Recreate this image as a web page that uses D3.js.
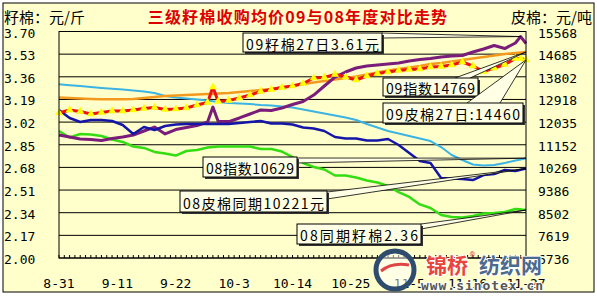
<!DOCTYPE html>
<html><head>
<meta charset="utf-8">
<script src="https://d3js.org/d3.v7.min.js"></script>
<style>
  body { margin: 0; background: #fff; }
  text { font-family: "DejaVu Sans Mono", monospace; }
  .cjk { font-family: "Noto Sans CJK SC", sans-serif; }
</style>
</head>
<body>
<script>
// sample dates (2009), shared by every series
const dates = ["8-31","9-2","9-4","9-6","9-8","9-10","9-12","9-14","9-16","9-18","9-20","9-22","9-24","9-26","9-28","9-29",
  "9-30","10-2","10-4","10-6","10-8","10-10","10-12","10-14","10-16","10-18","10-20","10-22","10-24","10-26","10-28","10-30",
  "11-1","11-3","11-5","11-7","11-9","11-11","11-13","11-15","11-17","11-19","11-21","11-23","11-25","11-26","11-27"];

// seed cotton, yuan / jin (left axis)
const seed09 = [2.923,2.908,2.893,2.889,2.882,2.897,2.908,2.923,2.953,2.983,2.931,2.964,2.979,2.994,3.021,3.133,
  3.024,3.024,3.051,3.081,3.111,3.107,3.126,3.152,3.175,3.223,3.291,3.358,3.396,3.426,3.441,3.449,
  3.456,3.464,3.479,3.490,3.497,3.509,3.516,3.520,3.546,3.569,3.595,3.572,3.614,3.662,3.61];
const seed08 = [2.953,2.904,2.931,2.927,2.916,2.889,2.871,2.837,2.826,2.796,2.784,2.769,2.803,2.811,2.829,2.833,
  2.837,2.837,2.837,2.837,2.818,2.818,2.799,2.758,2.713,2.683,2.664,2.619,2.619,2.604,2.582,2.567,
  2.540,2.495,2.458,2.402,2.375,2.323,2.308,2.304,2.315,2.334,2.338,2.345,2.368,2.365,2.36];

// lint cotton, yuan / ton (right axis)
const index09 = [12994,12974,12955,12935,12924,12924,12924,12935,12974,13013,13052,13072,13091,13111,13130,13130,
  13150,13169,13208,13247,13286,13325,13384,13442,13520,13579,13637,13696,13754,13813,13891,13969,
  14047,14105,14164,14222,14300,14339,14398,14456,14515,14573,14631,14690,14729,14749,14769];
const lint09 = [12390,12507,12448,12351,12409,12468,12468,12507,12565,12604,12526,12546,12585,12701,12799,13403,
  12838,12877,12974,13091,13228,13306,13384,13442,13540,13754,13774,13891,13793,13676,13832,13930,
  13988,14047,14086,14105,14183,14203,14261,14378,14222,14008,14144,14281,14515,14515,14460];
const index08 = [13509,13474,13442,13403,13364,13333,13302,13267,13224,13169,13052,12994,12955,12916,12877,12850,
  12818,12779,12760,12740,12701,12682,12643,12604,12526,12448,12370,12292,12214,12117,11961,11824,
  11688,11590,11493,11395,11298,11064,10752,10557,10382,10343,10362,10440,10538,10580,10629];
const lint08 = [12507,12195,12039,12117,12117,12078,11922,11571,11844,11727,11883,11941,11961,11961,11961,11961,
  11961,11961,12000,12039,12078,11980,11980,11941,11824,11785,11688,11454,11395,11395,11317,11317,
  11376,11142,10830,10518,10440,9855,9836,9816,9777,9972,10011,10167,10128,10180,10221];

const leftTicks = ["3.70","3.53","3.36","3.19","3.02","2.85","2.68","2.51","2.34","2.17","2.00"];
const rightTicks = ["15568","14685","13802","12918","12035","11152","10269","9386","8502","7619","6736"];
const xTicks = ["8-31","9-11","9-22","10-3","10-14","10-25","11-5","11-16","11-27"];

const W = 597, H = 297;
const parse = d3.timeParse("%Y-%m-%d");
const toDate = s => parse("2009-" + s);
const days = dates.map(toDate);

const x = d3.scaleTime().domain([toDate("8-31"), toDate("11-27")]).range([59, 526]);
const yL = d3.scaleLinear().domain([2.00, 3.70]).range([258, 31.5]);
const yR = d3.scaleLinear().domain([6736, 15568]).range([258, 31.5]);

const svg = d3.select("body").append("svg").attr("width", W).attr("height", H);

svg.append("rect").attr("x", 3).attr("y", 3).attr("width", 591).attr("height", 289)
  .attr("fill", "#FFFFCC").attr("stroke", "#000");

// title + units
svg.append("text").attr("class", "cjk").attr("x", 298).attr("y", 16)
  .attr("text-anchor", "middle").attr("dominant-baseline", "central")
  .style("font-size", "16px").style("font-weight", "bold").style("letter-spacing", "1.2px")
  .attr("fill", "#DD0000").text("三级籽棉收购均价09与08年度对比走势");
svg.append("text").attr("class", "cjk").attr("x", 4).attr("y", 16).attr("dominant-baseline", "central")
  .style("font-size", "15px").text("籽棉：元/斤");
svg.append("text").attr("class", "cjk").attr("x", 592).attr("y", 16).attr("dominant-baseline", "central")
  .attr("text-anchor", "end").style("font-size", "15px").text("皮棉：元/吨");

// gridlines + axis labels
const tickVals = leftTicks.map(Number);
svg.append("g").selectAll("line").data(tickVals).join("line")
  .attr("x1", 59).attr("x2", 526).attr("y1", d => yL(d)).attr("y2", d => yL(d))
  .attr("stroke", "#000").attr("stroke-width", 1);

svg.append("g").selectAll("text").data(leftTicks).join("text")
  .attr("x", 4).attr("y", d => yL(+d) + 1.5).attr("dominant-baseline", "central")
  .style("font-size", "13px").text(d => d);

svg.append("g").selectAll("text").data(rightTicks).join("text")
  .attr("x", 538).attr("y", d => yR(+d) + 1.5).attr("dominant-baseline", "central")
  .style("font-size", "13px").text(d => d);

svg.append("g").selectAll("text").data(xTicks).join("text")
  .attr("x", d => x(toDate(d))).attr("y", 283).attr("text-anchor", "middle")
  .attr("dominant-baseline", "central").style("font-size", "13px").text(d => d);

// daily ticks on the bottom axis
svg.append("g").selectAll("line").data(d3.timeDay.range(toDate("8-31"), d3.timeDay.offset(toDate("11-27"), 1))).join("line")
  .attr("x1", d => x(d)).attr("x2", d => x(d)).attr("y1", 258).attr("y2", 255)
  .attr("stroke", "#000");

// series
const series = [
  { vals: index08, y: yR, color: "#3BB3E3", w: 2 },
  { vals: seed08, y: yL, color: "#33DD11", w: 2.5 },
  { vals: index09, y: yR, color: "#F39A1E", w: 2.5 },
  { vals: seed09, y: yL, color: "#7A1C7A", w: 3 },
  { vals: lint08, y: yR, color: "#1515A8", w: 2.5 },
  { vals: lint09, y: yR, color: "#EE1111", w: 3, marker: true }
];

series.forEach(s => {
  const line = d3.line().x((d, i) => x(days[i])).y(d => s.y(d));
  svg.append("path").datum(s.vals).attr("d", line)
    .attr("fill", "none").attr("stroke", s.color).attr("stroke-width", s.w)
    .attr("stroke-linejoin", "round");
  if (s.marker) {
    svg.append("g").selectAll("path").data(s.vals).join("path")
      .attr("transform", (d, i) => `translate(${x(days[i])},${s.y(d)})`)
      .attr("d", d3.symbol(d3.symbolTriangle, 28))
      .attr("fill", "#FFFF00");
  }
});

// plot frame
svg.append("rect").attr("x", 59).attr("y", 31.5).attr("width", 467).attr("height", 226.5)
  .attr("fill", "none").attr("stroke", "#000");

// callouts
const last = dates.length - 1;
const callouts = [
  { text: "09籽棉27日3.61元", box: [243, 33, 139, 19], base: [[382, 33], [382, 38]], vals: seed09, i: last - 1, y: yL },
  { text: "09指数14769", box: [383, 78, 95, 18], base: [[455, 78], [470, 78]], vals: index09, i: last, y: yR },
  { text: "09皮棉27日:14460", box: [383, 103, 140, 20], base: [[467, 103], [500, 103]], vals: lint09, i: last, y: yR },
  { text: "08指数10629", box: [203, 157, 94, 20], base: [[297, 158], [297, 163]], vals: index08, i: last, y: yR },
  { text: "08皮棉同期10221元", box: [180, 191, 147, 21], base: [[327, 192], [327, 199]], vals: lint08, i: last, y: yR },
  { text: "08同期籽棉2.36", box: [297, 224, 124, 20], base: [[421, 224], [421, 229]], vals: seed08, i: last, y: yL }
];

callouts.forEach(c => {
  const tip = [x(days[c.i]), c.y(c.vals[c.i])];
  svg.append("path").attr("d", d3.line()([c.base[0], tip, c.base[1]]))
    .attr("fill", "#FFFFE6").attr("stroke", "#000").attr("stroke-width", 0.8);
  const [bx, by, bw, bh] = c.box;
  svg.append("rect").attr("x", bx + 2).attr("y", by + 2).attr("width", bw).attr("height", bh).attr("fill", "#333");
  svg.append("rect").attr("x", bx).attr("y", by).attr("width", bw).attr("height", bh)
    .attr("fill", "#FFFFE6").attr("stroke", "#000");
  svg.append("text").attr("class", "cjk").attr("x", bx + 3).attr("y", by + bh / 2 + 1)
    .attr("dominant-baseline", "central").attr("textLength", bw - 6).attr("lengthAdjust", "spacing")
    .style("font-size", "14px").text(c.text);
});

// site watermark
const wm = svg.append("g");
wm.append("circle").attr("cx", 395).attr("cy", 270).attr("r", 19)
  .attr("fill", "#fff").attr("fill-opacity", 0.5).attr("stroke", "#2E4D6E").attr("stroke-width", 5);
wm.append("path").attr("d", "M381,271 Q392,262 409,265")
  .attr("fill", "none").attr("stroke", "#E04545").attr("stroke-width", 3);
wm.append("text").attr("class", "cjk").attr("x", 426).attr("y", 264).attr("dominant-baseline", "central")
  .style("font-size", "21px").style("font-weight", "bold").attr("fill", "#E8453C")
  .attr("stroke", "#fff").attr("stroke-width", 2).style("paint-order", "stroke").text("锦桥");
wm.append("text").attr("x", 470).attr("y", 257).style("font-size", "8px").attr("fill", "#E8453C").text("®");
wm.append("text").attr("class", "cjk").attr("x", 479).attr("y", 264).attr("dominant-baseline", "central")
  .style("font-size", "21px").style("font-weight", "bold").attr("fill", "#4C6A8C")
  .attr("stroke", "#fff").attr("stroke-width", 2).style("paint-order", "stroke").text("纺织网");
wm.append("text").attr("x", 482).attr("y", 285).attr("text-anchor", "middle").attr("dominant-baseline", "central")
  .style("font-size", "13px").style("font-weight", "bold").attr("fill", "#555")
  .attr("textLength", 122).attr("stroke", "#fff").attr("stroke-width", 2).style("paint-order", "stroke")
  .text("www.sinotex.cn");
</script>
</body></html>
